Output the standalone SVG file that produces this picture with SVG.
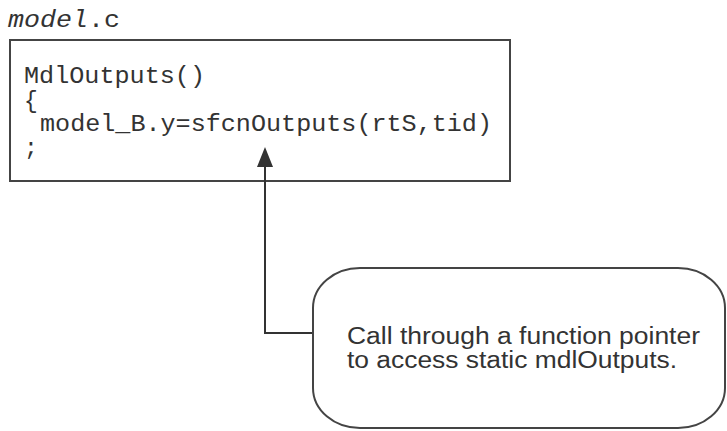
<svg xmlns="http://www.w3.org/2000/svg" width="727" height="431" viewBox="0 0 727 431">
<style>
.mono{font-family:"Liberation Mono","DejaVu Sans Mono",monospace;font-size:23px;fill:#333}
.sans{font-family:"Liberation Sans",Arial,sans-serif;font-size:23px;fill:#333}
.box{fill:#fff;stroke:#444;stroke-width:2}
.conn{fill:none;stroke:#333;stroke-width:2}
</style>
<rect width="727" height="431" fill="#fff"/>
<g id="title">
<text class="mono" x="8" y="27" textLength="112" lengthAdjust="spacingAndGlyphs"><tspan font-style="italic">model</tspan>.c</text>
</g>
<g id="code">
<rect class="box" x="10" y="40" width="500" height="141"/>
<text class="mono" x="24" y="83" textLength="181" lengthAdjust="spacingAndGlyphs">MdlOutputs()</text>
<text class="mono" x="24" y="108">{</text>
<text class="mono" x="40" y="131" textLength="452" lengthAdjust="spacingAndGlyphs">model_B.y=sfcnOutputs(rtS,tid)</text>
<text class="mono" x="24" y="155">;</text>
</g>
<g id="connectors">
<polyline class="conn" points="313,333 265,333 265,164"/>
<polygon points="265,147 257,167 273,167" fill="#333"/>
</g>
<g id="note">
<rect class="box" x="313" y="268" width="412" height="160" rx="47" ry="40"/>
<text class="sans" x="347" y="344" textLength="353" lengthAdjust="spacingAndGlyphs">Call through a function pointer</text>
<text class="sans" x="347" y="368" textLength="330" lengthAdjust="spacingAndGlyphs">to access static mdlOutputs.</text>
</g>
</svg>
